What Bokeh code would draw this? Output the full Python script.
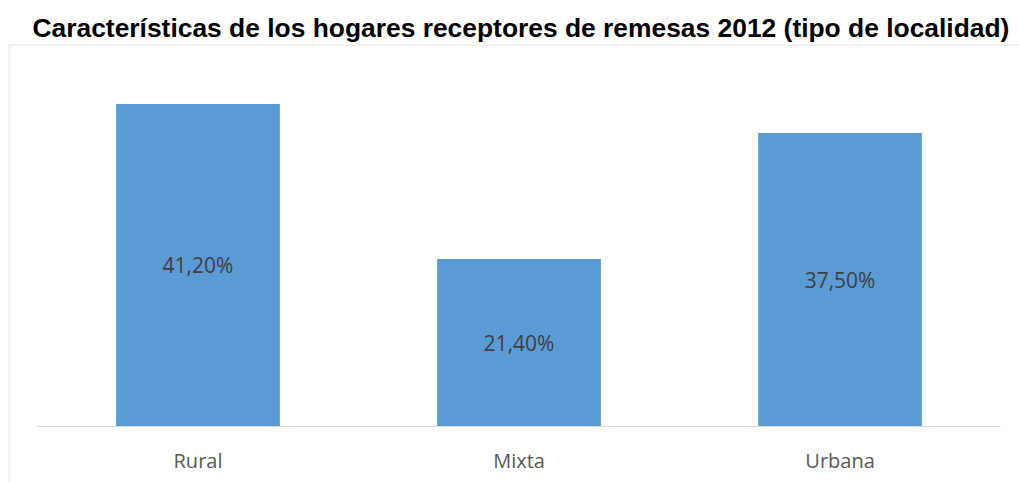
from bokeh.plotting import figure
from bokeh.models import Range1d, ColumnDataSource, Span
from bokeh.core.properties import value
from bokeh.embed import file_html
from bokeh.resources import INLINE

categories = ["Rural", "Mixta", "Urbana"]
values = [41.2, 21.4, 37.5]
labels = ["41,20%", "21,40%", "37,50%"]

idx = list(range(len(categories)))
src = ColumnDataSource(dict(
    x=idx, top=values, mid=[v / 2 for v in values], lab=labels,
    cat=categories, zero=[0] * len(idx)))

x0, x1 = -0.5903, 2.559
y0, y1 = -7.152, 48.79
px_x = (x1 - x0) / 1011.0
px_y = (y1 - y0) / 438.0

p = figure(width=1019, height=482, output_backend="svg", toolbar_location=None,
           x_range=Range1d(x0, x1), y_range=Range1d(y0, y1),
           x_axis_location=None, y_axis_location=None,
           min_border_left=8, min_border_right=0, min_border_bottom=0,
           min_border_top=44,
           title="Características de los hogares receptores de remesas 2012 (tipo de localidad)")
p.title.text_font = "Liberation Sans"
p.title.text_font_style = "bold"
p.title.text_font_size = "26.4px"
p.title.text_color = "#000000"
p.title.align = "left"
p.title.offset = 24
p.title.standoff = 4
p.xgrid.visible = False
p.ygrid.visible = False
p.outline_line_color = None
p.background_fill_color = "white"
p.border_fill_color = "white"

# chart-area border (top and left edges only visible in the reference)
p.add_layout(Span(location=x0 + 0.5 * px_x, dimension="height",
                  line_color="#d9d9d9", line_width=1))
p.add_layout(Span(location=y1 - 0.5 * px_y, dimension="width",
                  line_color="#d9d9d9", line_width=1))

p.vbar(x="x", top="top", bottom=0, width=0.51, source=src,
       fill_color="#5B9BD5", line_color=None)
p.segment(x0=-0.5, x1=len(categories) - 0.5, y0=0, y1=0,
          line_color="#d9d9d9", line_width=1)
p.text(x="x", y="mid", text="lab", source=src, text_align="center",
       text_baseline="middle", text_font=value("Open Sans"),
       text_font_size="21px", text_color="#404040")
p.text(x="x", y="zero", text="cat", source=src, text_align="center",
       text_baseline="middle", y_offset=34, text_font=value("Open Sans"),
       text_font_size="20px", text_color="#595959")

open("out.html", "w").write(file_html(p, INLINE))
